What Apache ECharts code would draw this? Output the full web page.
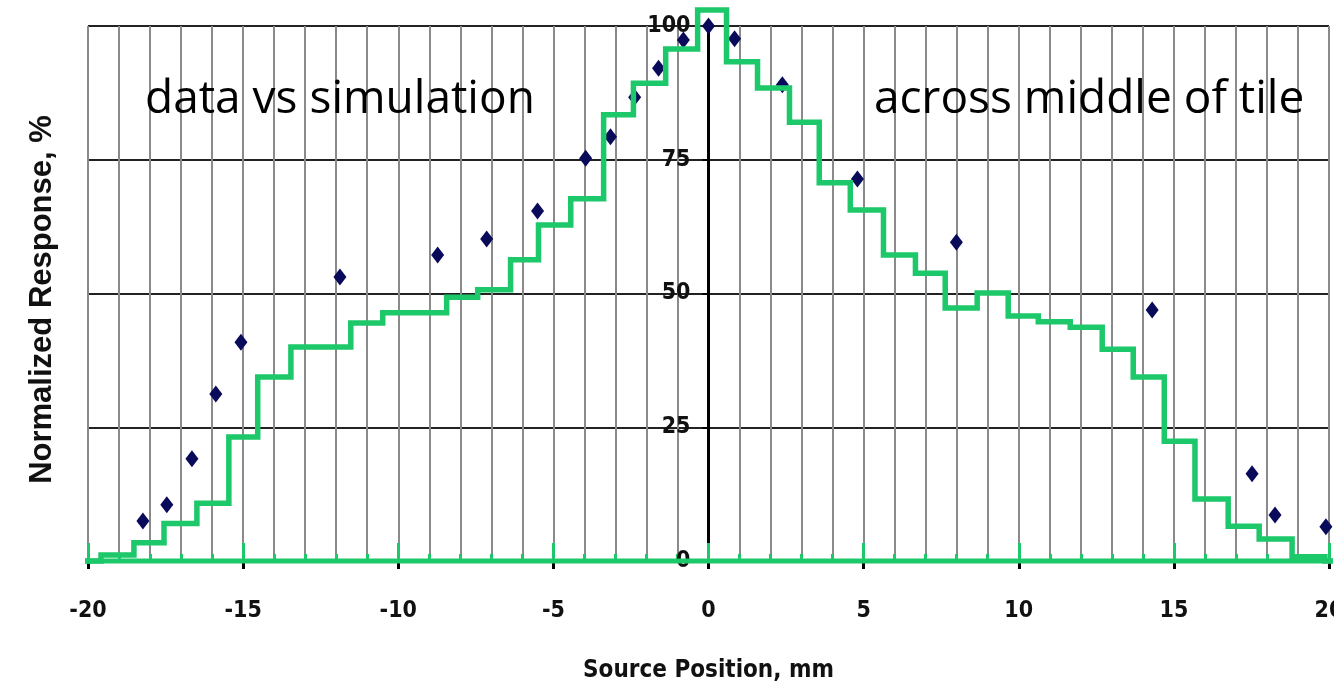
<!DOCTYPE html>
<html>
<head>
<meta charset="utf-8">
<script src="https://cdn.jsdelivr.net/npm/echarts@6/dist/echarts.min.js"></script>
<style>
  html, body { margin: 0; padding: 0; background: #ffffff; overflow: hidden; }
  #chart { width: 1334px; height: 687px; }
</style>
</head>
<body>
<div id="chart"></div>
<script>
// Measured response (diamonds): source position in mm and normalized response in %
const dataX = [-18.23, -17.46, -16.65, -15.88, -15.07, -11.88, -8.73, -7.15, -5.51, -3.96, -3.16, -2.38, -1.61, -0.81, 0.0, 0.84, 2.38, 4.80, 7.99, 14.30, 17.52, 18.26, 19.90];
const dataY = [7.5, 10.5, 19.1, 31.2, 40.9, 53.1, 57.2, 60.2, 65.4, 75.3, 79.3, 86.7, 92.1, 97.4, 100.0, 97.6, 89.0, 71.4, 59.6, 46.9, 16.3, 8.6, 6.4];

// Simulation histogram: left edge of each bin (mm) and its height (%)
const simEdges = [-20.65, -19.58, -18.52, -17.55, -16.49, -15.46, -14.53, -13.46, -11.53, -10.50, -8.44, -7.44, -6.38, -5.48, -4.44, -3.38, -2.42, -1.38, -0.35, 0.58, 1.58, 2.61, 3.57, 4.57, 5.64, 6.67, 7.63, 8.66, 9.66, 10.63, 11.66, 12.69, 13.69, 14.69, 15.68, 16.75, 17.75, 18.81, 19.87];
const simHeights = [0, 1.1, 3.4, 7.0, 10.8, 23.2, 34.4, 40.0, 44.5, 46.4, 49.3, 50.7, 56.3, 62.8, 67.7, 83.4, 89.3, 95.7, 103.0, 93.3, 88.4, 82.0, 70.7, 65.6, 57.2, 53.8, 47.3, 50.1, 45.8, 44.7, 43.7, 39.6, 34.4, 22.4, 11.6, 6.5, 4.1, 0.8, 0];
const simEnd = 20.2;

// Baseline of the simulation trace
const baseX = [-20.65, 20.2];
const baseY = [0, 0];

// Axis settings
const xMin = -20, xMax = 20, xStep = 5;
const yMin = 0, yMax = 100, yStep = 25;

const GREEN = '#1cc86a';
const NAVY = '#0a0a5a';
const narrowFont = '"Liberation Sans Narrow", "DejaVu Sans Condensed", "Arial Narrow", sans-serif';

const GRID_LEFT = 88, GRID_RIGHT = 5;
const CHART_W = 1334;
// pixel distance from the left plot edge to x = 0, used to place the value axis on zero
const zeroOffset = (CHART_W - GRID_LEFT - GRID_RIGHT) * (0 - xMin) / (xMax - xMin);

const simPoints = simEdges.map((x, i) => [x, simHeights[i]]);
simPoints.push([simEnd, simHeights[simHeights.length - 1]]);

const chart = echarts.init(document.getElementById('chart'), null, { renderer: 'canvas' });

chart.setOption({
  animation: false,
  backgroundColor: '#ffffff',
  grid: { left: GRID_LEFT, right: GRID_RIGHT, top: 26, bottom: 126, containLabel: false, outerBoundsMode: 'none', show: false },
  xAxis: [
    {
      type: 'value', min: xMin, max: xMax, interval: xStep,
      name: 'Source Position, mm', nameLocation: 'middle', nameGap: 98,
      nameTextStyle: { fontFamily: narrowFont, fontWeight: 'bold', fontSize: 24, color: '#111' },
      axisLine: { onZero: false, lineStyle: { color: '#000', width: 2 } },
      axisTick: { show: true, inside: false, length: 8, lineStyle: { color: '#000', width: 3 } },
      minorTick: { show: false, splitNumber: 5 },
      axisLabel: { margin: 39, fontFamily: narrowFont, fontWeight: 'bold', fontSize: 23, color: '#111' },
      splitLine: { show: true, lineStyle: { color: '#8a8a8a', width: 2 } },
      minorSplitLine: { show: true, lineStyle: { color: '#8a8a8a', width: 2 } }
    },
    {
      type: 'value', min: xMin, max: xMax, interval: xStep, position: 'bottom',
      axisLine: { show: false, onZero: false },
      axisTick: { show: true, inside: true, length: 18, lineStyle: { color: GREEN, width: 3 } },
      minorTick: { show: true, splitNumber: 5, length: 7, lineStyle: { color: GREEN, width: 3 } },
      axisLabel: { show: false },
      splitLine: { show: false }
    }
  ],
  yAxis: [
    {
      type: 'value', min: yMin, max: yMax, interval: yStep, position: 'left', offset: -zeroOffset,
      axisLine: { show: true, onZero: false, lineStyle: { color: '#000', width: 3 } },
      axisTick: { show: true, inside: false, length: 6, lineStyle: { color: '#000', width: 2 } },
      axisLabel: { margin: 18, fontFamily: narrowFont, fontWeight: 'bold', fontSize: 23, color: '#111' },
      splitLine: { show: true, lineStyle: { color: '#222', width: 2 } }
    },
    {
      type: 'value', min: yMin, max: yMax, position: 'left', offset: 0,
      axisLine: { show: false, onZero: false },
      axisTick: { show: false }, axisLabel: { show: false }, splitLine: { show: false },
      name: 'Normalized Response, %', nameLocation: 'middle', nameRotate: 90, nameGap: 30,
      nameTextStyle: { fontFamily: '"Liberation Sans", Arial, sans-serif', fontWeight: 'bold', fontSize: 31, color: '#111', padding: [0, 12, 0, 0] }
    }
  ],
  series: [
    {
      name: 'data', type: 'scatter', xAxisIndex: 0, yAxisIndex: 0, z: 3,
      symbol: 'diamond', symbolSize: [13, 17],
      itemStyle: { color: NAVY, opacity: 1 },
      data: dataX.map((x, i) => [x, dataY[i]])
    },
    {
      name: 'baseline', type: 'line', xAxisIndex: 0, yAxisIndex: 0, z: 4, clip: false,
      showSymbol: false, symbol: 'none',
      lineStyle: { color: GREEN, width: 5 },
      data: baseX.map((x, i) => [x, baseY[i]])
    },
    {
      name: 'simulation', type: 'line', xAxisIndex: 0, yAxisIndex: 0, z: 5, clip: false,
      step: 'end', showSymbol: false, symbol: 'none',
      lineStyle: { color: GREEN, width: 5.5, join: 'miter' },
      data: simPoints
    }
  ],
  graphic: [
    {
      type: 'text', left: 145, top: 77, z: 10,
      style: { text: 'data vs simulation', fontFamily: '"Open Sans", sans-serif', fontSize: 46, fill: '#000' }
    },
    {
      type: 'text', left: 874, top: 77, z: 10,
      style: { text: 'across middle of tile', fontFamily: '"Open Sans", sans-serif', fontSize: 46, fill: '#000' }
    }
  ]
});
</script>
</body>
</html>
